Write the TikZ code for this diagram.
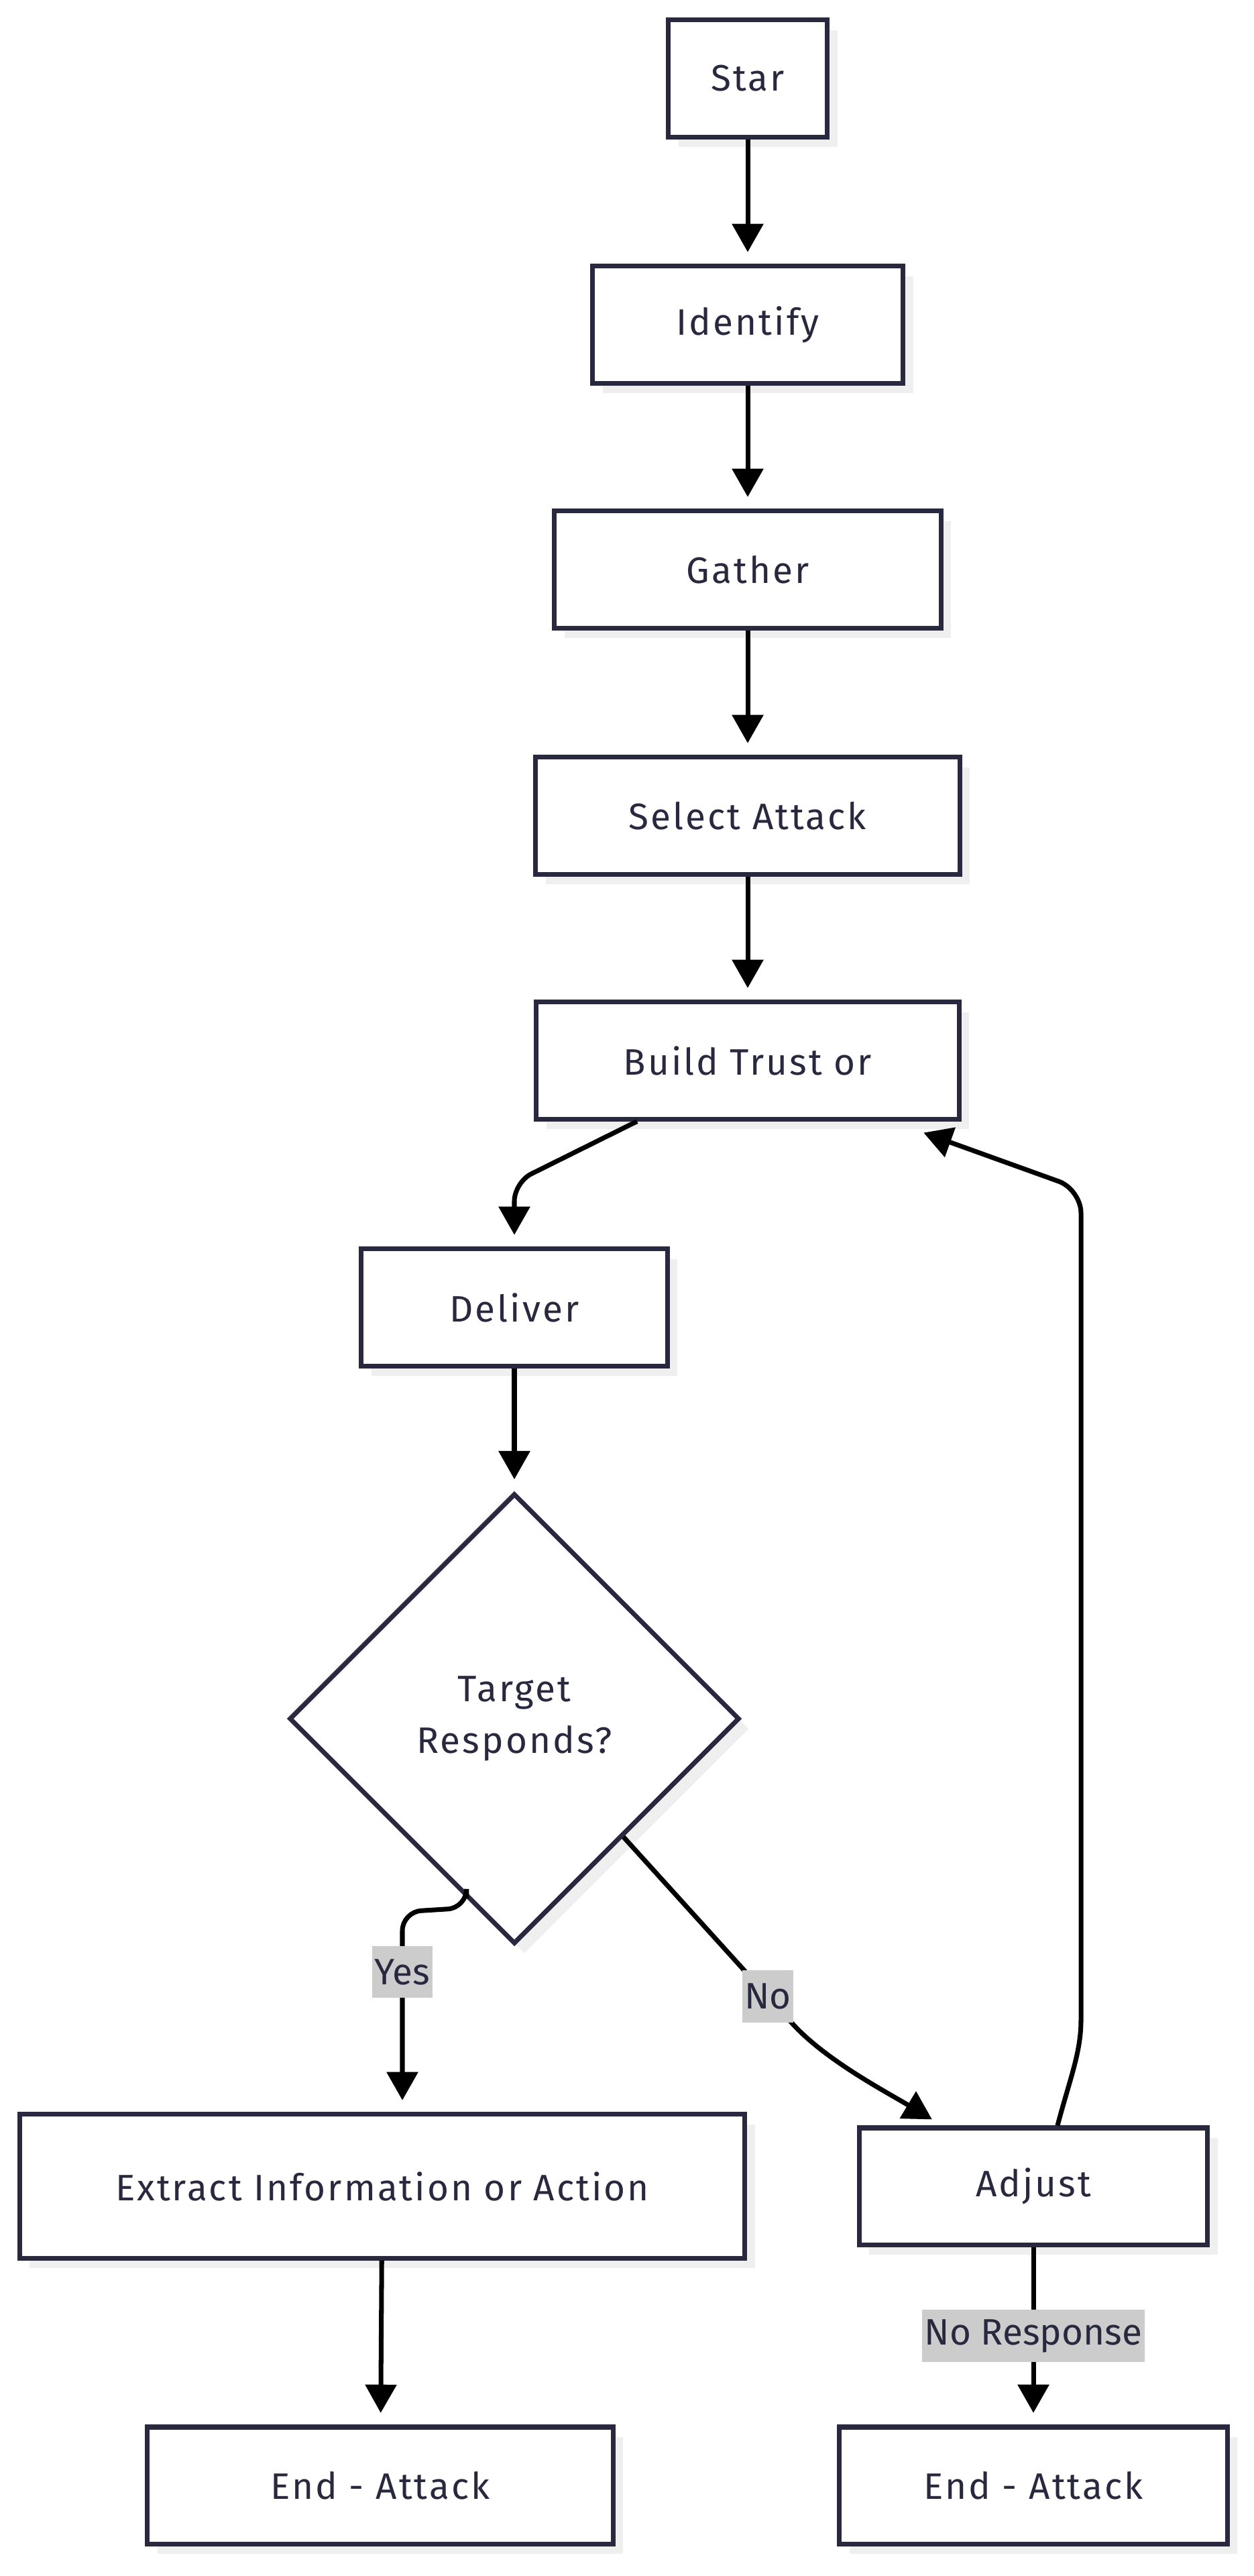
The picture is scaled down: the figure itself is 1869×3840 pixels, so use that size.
\documentclass[tikz,border=0pt]{standalone}
\usepackage{fontspec}
\setmainfont{Fira Sans}
\newfontfamily\boxfont[LetterSpace=5.5]{Fira Sans}
\usetikzlibrary{arrows.meta,positioning,calc,shapes.geometric,shadows}
\definecolor{ink}{HTML}{28283F}
\definecolor{shadowgray}{HTML}{EFEFEF}
\definecolor{taggray}{HTML}{CCCCCC}
\tikzset{
  stepbox/.style={draw=ink, line width=2pt, fill=white, text=ink, inner sep=0pt,
    minimum height=1.74cm, font=\boxfont\fontsize{15.6}{22}\selectfont,
    drop shadow={shadow xshift=4.3pt, shadow yshift=-4.3pt, fill=shadowgray, opacity=1}},
  flow/.style={line width=2pt, -{Triangle[length=12pt,width=13pt]}, shorten >=5pt},
  tagbox/.style={fill=taggray, text=ink, sharp corners, inner xsep=1pt, inner ysep=0pt,
    minimum height=22pt, font=\fontsize{15.6}{22}\selectfont}
}
\begin{document}
\begin{tikzpicture}[x=0.01cm, y=-0.01cm]
    \useasboundingbox (0,0) rectangle (1869,3840);
    \foreach \n/\y/\w/\t in {star/117/2.37/Star, ident/484/4.63/Identify, gather/849/5.76/Gather, select/1216/6.32/Select Attack, build/1581/6.30/Build Trust or} {
      \node[stepbox, minimum width=\w cm] (\n) at (1115,\y) {\t};
    }
    \foreach \a/\b in {star/ident, ident/gather, gather/select, select/build} {
      \draw[flow] (\a) -- (\b);
    }

    \node[stepbox, minimum width=4.56cm] (deliver) at (767,1949) {Deliver};
    \node[stepbox, diamond, aspect=1, minimum width=6.71cm, minimum height=6.71cm, align=center] (resp) at (767,2562) {Target\\Responds?};
    \node[stepbox, minimum width=10.81cm, minimum height=2.14cm] (extract) at (570,3259) {Extract Information or Action};
    \node[stepbox, minimum width=5.19cm] (adjust) at (1541,3259) {Adjust};
    \node[stepbox, minimum width=6.94cm] (endA) at (567,3705) {End - Attack};
    \node[stepbox, minimum width=5.78cm] (endB) at (1541,3705) {End - Attack};

    \draw[flow, rounded corners=8pt] ($(build.south)+(-165,0)$) -- ($(deliver.north)+(0,-96)$) -- (deliver.north);
    \draw[flow] (deliver) -- (resp);
    \draw[flow, rounded corners=8pt] ($(resp.south)!0.21!(resp.west)$) -- ++(0,14) -- (600,2850) -- node[tagbox, pos=0.3] {Yes} ($(extract.north)+(30,0)$);
    \draw[flow] ($(resp.east)!0.52!(resp.south)$) -- node[tagbox, pos=0.85] {No} (1183,3018) .. controls (1233,3072) and (1321,3118) .. ($(adjust.north)+(-136,0)$);
    \draw[flow, rounded corners=10pt] ($(adjust.north)+(36,0)$) .. controls (1595,3100) and (1612,3060) .. (1612,2976) -- (1612,1773) -- ($(build.south east)+(-73,11)$);
    \draw[flow] (adjust) -- node[tagbox] {No Response} (endB);
    \draw[flow] (extract) -- (endA);
\end{tikzpicture}
\end{document}
